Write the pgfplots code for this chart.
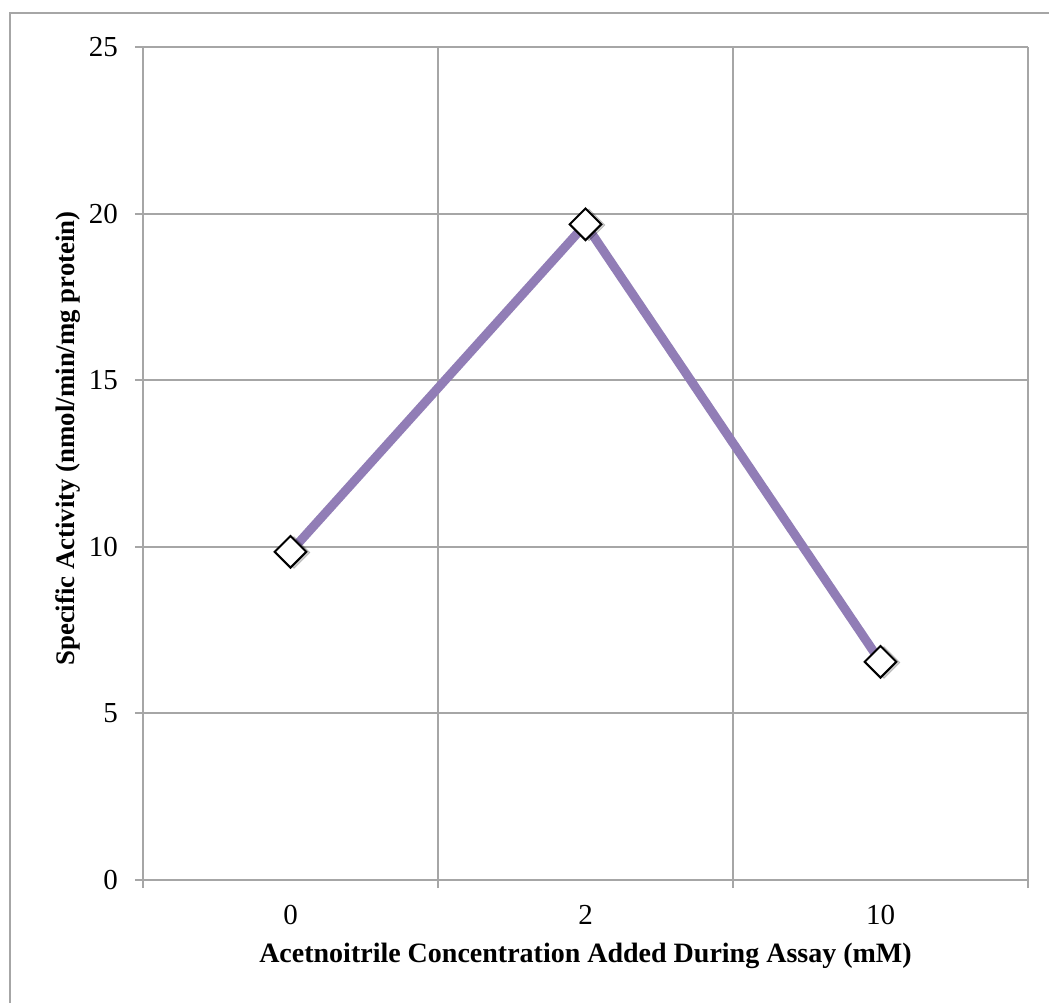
\documentclass[border=0pt]{standalone}
\usepackage{pgfplots}
\pgfplotsset{compat=1.18}
\usepackage{fontspec}
\setmainfont{Liberation Serif}
\definecolor{gridgray}{RGB}{166,166,166}
\definecolor{seriespurple}{RGB}{145,125,182}

% specific activity for each acetonitrile concentration (category index, value)
\pgfplotstableread{
idx value
0 9.85
1 19.68
2 6.55
}\activity

\begin{document}
\begin{tikzpicture}[x=1pt,y=1pt]
% page frame (0.5pt per pixel of a 1049 x 1003 canvas, axis box lower-left at origin)
\useasboundingbox (-71.5,-61.5) rectangle (453,440);
\draw[gridgray, line width=1pt] (-66.5,-61.5) -- (-66.5,433.5) -- (453,433.5);
\begin{axis}[
  scale only axis,
  width=442.5pt, height=416.5pt,
  xmin=-0.5, xmax=2.5,
  ymin=0, ymax=25,
  xtick={0,1,2},
  xticklabels={0,2,10},
  minor xtick={-0.5,0.5,1.5,2.5},
  ytick={0,5,10,15,20,25},
  major x tick style={draw=none},
  xmajorgrids=false,
  xminorgrids=true,
  ymajorgrids=true,
  grid style={gridgray, line width=1pt},
  minor grid style={gridgray, line width=1pt},
  axis line style={gridgray, line width=1pt},
  tick style={gridgray, line width=1pt},
  minor tick length=4pt,
  major tick length=4pt,
  tick align=outside,
  xtick pos=bottom, ytick pos=left,
  axis x line*=bottom, axis y line*=left,
  tick label style={font=\fontsize{14.5}{16}\selectfont, text=black},
  yticklabel style={xshift=-5pt},
  xticklabel style={yshift=-5pt},
  /pgf/number format/assume math mode=true,
  xlabel={Acetnoitrile Concentration Added During Assay (mM)},
  ylabel={Specific Activity (nmol/min/mg protein)},
  xlabel style={font=\bfseries\fontsize{14}{16}\selectfont, text=black,
    at={(axis description cs:0.5,0)}, anchor=center, yshift=-38pt},
  ylabel style={font=\bfseries\fontsize{13.4}{16}\selectfont, text=black,
    at={(axis description cs:-0.0847,0.53)}, anchor=center},
  clip=false,
]
% soft shadow under the markers
\addplot[only marks, mark=square*, mark size=5.6pt,
  mark options={rotate=45, fill=black, draw=none, opacity=0.18,
    xshift=1pt, yshift=-1.5pt}]
  table[x=idx, y=value] {\activity};
\addplot[seriespurple, line width=4.5pt,
  mark=square*, mark size=5.6pt,
  mark options={rotate=45, fill=white, draw=black, line width=1pt}]
  table[x=idx, y=value] {\activity};
\end{axis}
\end{tikzpicture}
\end{document}
